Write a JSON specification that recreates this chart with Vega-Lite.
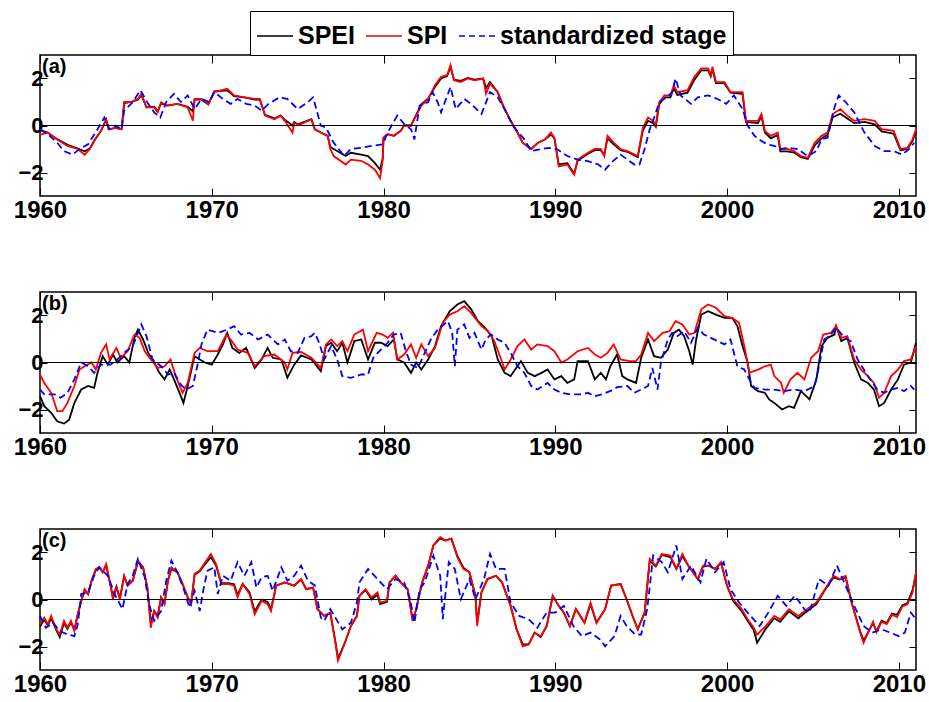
{
"$schema":"https://vega.github.io/schema/vega-lite/v6.json",
"background":"white",
"padding":{"left":12,"top":9,"right":5,"bottom":5},
"config":{"font":"Liberation Sans","view":{"stroke":"black","strokeWidth":1.5}},
"bounds":"flush",
"spacing":96,
"resolve":{"scale":{"color":"independent"}},
"datasets":{
"aE":[{"t":1960.0,"v":-0.2},{"t":1960.45,"v":-0.3},{"t":1961.0,"v":-0.58},{"t":1961.6,"v":-0.82},{"t":1962.2,"v":-0.98},{"t":1962.6,"v":-1.1},{"t":1962.9,"v":-0.98},{"t":1963.2,"v":-0.6},{"t":1963.55,"v":-0.23},{"t":1963.85,"v":0.25},{"t":1964.0,"v":-0.16},{"t":1964.4,"v":-0.1},{"t":1964.75,"v":-0.16},{"t":1964.9,"v":0.95},{"t":1965.3,"v":1.0},{"t":1965.7,"v":1.1},{"t":1965.9,"v":1.3},{"t":1966.2,"v":0.77},{"t":1966.65,"v":0.8},{"t":1966.85,"v":0.6},{"t":1967.05,"v":0.95},{"t":1967.4,"v":0.85},{"t":1968.0,"v":0.92},{"t":1968.6,"v":0.8},{"t":1968.9,"v":0.6},{"t":1969.0,"v":1.1},{"t":1969.4,"v":1.1},{"t":1969.8,"v":0.9},{"t":1970.15,"v":1.45},{"t":1970.9,"v":1.5},{"t":1971.3,"v":1.25},{"t":1971.9,"v":1.2},{"t":1972.5,"v":1.1},{"t":1972.8,"v":1.1},{"t":1973.1,"v":0.45},{"t":1973.65,"v":0.3},{"t":1974.0,"v":0.42},{"t":1974.25,"v":0.25},{"t":1974.7,"v":0.0},{"t":1974.8,"v":0.15},{"t":1975.0,"v":0.05},{"t":1975.2,"v":0.1},{"t":1975.8,"v":0.27},{"t":1976.0,"v":-0.16},{"t":1976.35,"v":-0.3},{"t":1976.75,"v":-0.44},{"t":1976.9,"v":-0.9},{"t":1977.1,"v":-1.0},{"t":1977.8,"v":-1.3},{"t":1978.1,"v":-1.16},{"t":1978.7,"v":-1.24},{"t":1979.1,"v":-1.3},{"t":1979.5,"v":-1.6},{"t":1979.8,"v":-1.88},{"t":1979.95,"v":-1.4},{"t":1980.0,"v":-0.52},{"t":1980.24,"v":-0.37},{"t":1980.6,"v":-0.44},{"t":1981.0,"v":-0.23},{"t":1981.2,"v":0.0},{"t":1981.6,"v":0.0},{"t":1981.9,"v":0.45},{"t":1982.2,"v":0.9},{"t":1982.6,"v":1.15},{"t":1983.0,"v":1.65},{"t":1983.35,"v":2.0},{"t":1983.7,"v":2.1},{"t":1983.9,"v":2.5},{"t":1984.1,"v":1.95},{"t":1984.5,"v":1.9},{"t":1984.9,"v":2.02},{"t":1985.3,"v":1.95},{"t":1985.8,"v":2.0},{"t":1985.97,"v":1.6},{"t":1986.2,"v":1.85},{"t":1986.65,"v":1.42},{"t":1987.0,"v":0.77},{"t":1987.4,"v":0.2},{"t":1987.8,"v":-0.3},{"t":1988.1,"v":-0.73},{"t":1988.6,"v":-1.0},{"t":1989.0,"v":-0.73},{"t":1989.4,"v":-0.6},{"t":1989.75,"v":-0.38},{"t":1989.95,"v":-0.55},{"t":1990.2,"v":-1.65},{"t":1990.7,"v":-1.6},{"t":1991.1,"v":-2.05},{"t":1991.3,"v":-1.5},{"t":1991.9,"v":-1.2},{"t":1992.3,"v":-1.05},{"t":1992.65,"v":-1.05},{"t":1992.85,"v":-1.25},{"t":1993.04,"v":-0.55},{"t":1993.4,"v":-0.8},{"t":1993.8,"v":-1.05},{"t":1994.2,"v":-1.12},{"t":1994.8,"v":-1.35},{"t":1995.1,"v":-0.2},{"t":1995.4,"v":0.2},{"t":1995.7,"v":0.1},{"t":1995.85,"v":-0.05},{"t":1996.05,"v":0.9},{"t":1996.35,"v":1.2},{"t":1996.7,"v":1.2},{"t":1996.9,"v":1.6},{"t":1997.1,"v":1.3},{"t":1997.7,"v":1.4},{"t":1998.1,"v":1.95},{"t":1998.5,"v":2.35},{"t":1998.9,"v":2.35},{"t":1999.05,"v":2.1},{"t":1999.15,"v":2.4},{"t":1999.35,"v":1.8},{"t":1999.85,"v":1.8},{"t":2000.2,"v":1.4},{"t":2000.9,"v":1.35},{"t":2001.1,"v":0.15},{"t":2001.8,"v":0.1},{"t":2002.0,"v":0.4},{"t":2002.2,"v":-0.3},{"t":2002.55,"v":-0.55},{"t":2002.95,"v":-0.4},{"t":2003.1,"v":-1.1},{"t":2003.5,"v":-1.1},{"t":2003.9,"v":-1.15},{"t":2004.3,"v":-1.35},{"t":2004.7,"v":-1.42},{"t":2005.1,"v":-0.85},{"t":2005.5,"v":-0.55},{"t":2005.85,"v":-0.4},{"t":2006.15,"v":0.35},{"t":2006.6,"v":0.5},{"t":2007.0,"v":0.3},{"t":2007.4,"v":0.1},{"t":2008.0,"v":0.15},{"t":2008.6,"v":0.05},{"t":2009.0,"v":-0.25},{"t":2009.7,"v":-0.35},{"t":2010.1,"v":-1.05},{"t":2010.5,"v":-1.0},{"t":2010.8,"v":-0.65},{"t":2011.0,"v":-0.25}],
"aI":[{"t":1960.0,"v":-0.4},{"t":1960.45,"v":-0.3},{"t":1961.0,"v":-0.6},{"t":1961.6,"v":-0.87},{"t":1962.2,"v":-1.0},{"t":1962.6,"v":-1.24},{"t":1962.9,"v":-1.0},{"t":1963.2,"v":-0.6},{"t":1963.55,"v":-0.23},{"t":1963.85,"v":0.27},{"t":1964.0,"v":-0.16},{"t":1964.4,"v":-0.1},{"t":1964.75,"v":-0.16},{"t":1964.9,"v":1.0},{"t":1965.3,"v":1.0},{"t":1965.7,"v":1.13},{"t":1965.9,"v":1.35},{"t":1966.2,"v":0.77},{"t":1966.65,"v":0.77},{"t":1966.85,"v":0.56},{"t":1967.05,"v":0.99},{"t":1967.4,"v":0.85},{"t":1968.0,"v":0.92},{"t":1968.6,"v":0.77},{"t":1968.9,"v":0.2},{"t":1969.0,"v":1.13},{"t":1969.4,"v":1.13},{"t":1969.8,"v":0.92},{"t":1970.15,"v":1.42},{"t":1970.9,"v":1.56},{"t":1971.3,"v":1.28},{"t":1971.9,"v":1.2},{"t":1972.5,"v":1.13},{"t":1972.8,"v":1.13},{"t":1973.1,"v":0.42},{"t":1973.65,"v":0.27},{"t":1974.0,"v":0.42},{"t":1974.25,"v":0.2},{"t":1974.7,"v":-0.3},{"t":1974.8,"v":0.1},{"t":1975.0,"v":0.05},{"t":1975.2,"v":0.06},{"t":1975.8,"v":0.27},{"t":1976.0,"v":-0.16},{"t":1976.35,"v":-0.3},{"t":1976.75,"v":-0.44},{"t":1976.9,"v":-1.0},{"t":1977.1,"v":-1.3},{"t":1977.8,"v":-1.66},{"t":1978.1,"v":-1.45},{"t":1978.7,"v":-1.5},{"t":1979.1,"v":-1.66},{"t":1979.5,"v":-1.88},{"t":1979.8,"v":-2.24},{"t":1979.95,"v":-1.5},{"t":1980.0,"v":-0.52},{"t":1980.24,"v":-0.37},{"t":1980.6,"v":-0.44},{"t":1981.0,"v":-0.23},{"t":1981.2,"v":0.0},{"t":1981.6,"v":0.0},{"t":1981.9,"v":0.42},{"t":1982.2,"v":0.85},{"t":1982.6,"v":1.13},{"t":1983.0,"v":1.71},{"t":1983.35,"v":2.07},{"t":1983.7,"v":2.14},{"t":1983.9,"v":2.57},{"t":1984.1,"v":1.92},{"t":1984.5,"v":1.85},{"t":1984.9,"v":2.0},{"t":1985.3,"v":1.92},{"t":1985.8,"v":2.0},{"t":1985.97,"v":1.35},{"t":1986.2,"v":1.78},{"t":1986.65,"v":1.42},{"t":1987.0,"v":0.77},{"t":1987.4,"v":0.2},{"t":1987.8,"v":-0.3},{"t":1988.1,"v":-0.73},{"t":1988.6,"v":-1.0},{"t":1989.0,"v":-0.73},{"t":1989.4,"v":-0.59},{"t":1989.75,"v":-0.3},{"t":1989.95,"v":-0.52},{"t":1990.2,"v":-1.74},{"t":1990.7,"v":-1.66},{"t":1991.1,"v":-2.1},{"t":1991.3,"v":-1.45},{"t":1991.9,"v":-1.16},{"t":1992.3,"v":-1.0},{"t":1992.65,"v":-1.0},{"t":1992.85,"v":-1.3},{"t":1993.04,"v":-0.44},{"t":1993.4,"v":-0.73},{"t":1993.8,"v":-1.0},{"t":1994.2,"v":-1.09},{"t":1994.8,"v":-1.3},{"t":1995.1,"v":-0.09},{"t":1995.4,"v":0.34},{"t":1995.7,"v":0.2},{"t":1995.85,"v":0.0},{"t":1996.05,"v":0.99},{"t":1996.35,"v":1.28},{"t":1996.7,"v":1.28},{"t":1996.9,"v":1.71},{"t":1997.1,"v":1.42},{"t":1997.7,"v":1.5},{"t":1998.1,"v":2.07},{"t":1998.5,"v":2.43},{"t":1998.9,"v":2.43},{"t":1999.05,"v":2.14},{"t":1999.15,"v":2.5},{"t":1999.35,"v":1.85},{"t":1999.85,"v":1.85},{"t":2000.2,"v":1.42},{"t":2000.9,"v":1.42},{"t":2001.1,"v":0.2},{"t":2001.8,"v":0.2},{"t":2002.0,"v":0.49},{"t":2002.2,"v":-0.23},{"t":2002.55,"v":-0.44},{"t":2002.95,"v":-0.3},{"t":2003.1,"v":-1.0},{"t":2003.5,"v":-1.0},{"t":2003.9,"v":-1.09},{"t":2004.3,"v":-1.3},{"t":2004.7,"v":-1.38},{"t":2005.1,"v":-0.73},{"t":2005.5,"v":-0.44},{"t":2005.85,"v":-0.3},{"t":2006.15,"v":0.49},{"t":2006.6,"v":0.7},{"t":2007.0,"v":0.42},{"t":2007.4,"v":0.2},{"t":2008.0,"v":0.27},{"t":2008.6,"v":0.2},{"t":2009.0,"v":-0.16},{"t":2009.7,"v":-0.23},{"t":2010.1,"v":-1.0},{"t":2010.5,"v":-0.95},{"t":2010.8,"v":-0.59},{"t":2011.0,"v":-0.16}],
"aS":[{"t":1960.0,"v":-0.16},{"t":1960.45,"v":-0.37},{"t":1961.0,"v":-0.73},{"t":1961.4,"v":-1.09},{"t":1961.9,"v":-1.24},{"t":1962.3,"v":-1.0},{"t":1962.8,"v":-0.8},{"t":1963.35,"v":-0.16},{"t":1963.75,"v":0.34},{"t":1964.05,"v":-0.16},{"t":1964.4,"v":0.0},{"t":1964.75,"v":-0.16},{"t":1964.9,"v":0.63},{"t":1965.4,"v":1.0},{"t":1965.85,"v":1.5},{"t":1966.3,"v":0.92},{"t":1966.65,"v":0.56},{"t":1967.0,"v":0.34},{"t":1967.35,"v":1.0},{"t":1967.8,"v":1.35},{"t":1968.2,"v":1.0},{"t":1968.6,"v":1.28},{"t":1969.0,"v":0.7},{"t":1969.4,"v":1.13},{"t":1969.85,"v":1.0},{"t":1970.15,"v":1.42},{"t":1970.65,"v":1.13},{"t":1971.1,"v":0.92},{"t":1971.5,"v":1.13},{"t":1972.0,"v":0.92},{"t":1972.5,"v":0.85},{"t":1972.9,"v":0.63},{"t":1973.3,"v":0.92},{"t":1973.95,"v":1.2},{"t":1974.4,"v":1.13},{"t":1975.0,"v":0.7},{"t":1975.6,"v":1.0},{"t":1975.9,"v":1.2},{"t":1976.35,"v":0.0},{"t":1976.65,"v":-0.09},{"t":1977.1,"v":-0.73},{"t":1977.7,"v":-1.3},{"t":1978.1,"v":-1.0},{"t":1978.7,"v":-0.95},{"t":1979.3,"v":-0.87},{"t":1979.95,"v":-0.8},{"t":1980.24,"v":-0.3},{"t":1980.8,"v":0.42},{"t":1981.2,"v":0.06},{"t":1981.6,"v":-0.16},{"t":1981.8,"v":-0.59},{"t":1982.1,"v":0.85},{"t":1982.6,"v":1.0},{"t":1982.85,"v":1.42},{"t":1983.15,"v":1.0},{"t":1983.35,"v":0.56},{"t":1983.9,"v":1.64},{"t":1984.2,"v":0.7},{"t":1984.7,"v":1.13},{"t":1985.1,"v":0.92},{"t":1985.7,"v":0.49},{"t":1986.2,"v":1.42},{"t":1986.65,"v":1.2},{"t":1987.0,"v":0.77},{"t":1987.6,"v":-0.09},{"t":1988.2,"v":-0.59},{"t":1988.6,"v":-1.09},{"t":1989.2,"v":-1.0},{"t":1989.65,"v":-0.95},{"t":1990.1,"v":-1.0},{"t":1990.7,"v":-1.3},{"t":1991.3,"v":-1.45},{"t":1991.9,"v":-1.52},{"t":1992.5,"v":-1.66},{"t":1992.9,"v":-1.88},{"t":1993.3,"v":-1.55},{"t":1993.8,"v":-1.24},{"t":1994.2,"v":-1.45},{"t":1994.6,"v":-1.66},{"t":1994.9,"v":-1.66},{"t":1995.2,"v":-1.0},{"t":1995.5,"v":-0.16},{"t":1995.8,"v":0.42},{"t":1996.05,"v":1.0},{"t":1996.5,"v":1.2},{"t":1996.8,"v":1.42},{"t":1997.0,"v":2.0},{"t":1997.3,"v":1.28},{"t":1997.9,"v":0.92},{"t":1998.3,"v":1.2},{"t":1998.9,"v":1.28},{"t":1999.45,"v":1.13},{"t":1999.95,"v":0.92},{"t":2000.4,"v":1.28},{"t":2000.9,"v":0.7},{"t":2001.2,"v":0.0},{"t":2001.6,"v":-0.44},{"t":2002.0,"v":-0.66},{"t":2002.35,"v":-0.8},{"t":2002.75,"v":-0.87},{"t":2003.15,"v":-1.0},{"t":2003.5,"v":-0.95},{"t":2004.1,"v":-1.0},{"t":2004.7,"v":-1.3},{"t":2005.2,"v":-1.09},{"t":2005.5,"v":-0.59},{"t":2005.85,"v":-0.52},{"t":2006.25,"v":0.77},{"t":2006.5,"v":1.28},{"t":2006.9,"v":1.0},{"t":2007.4,"v":0.56},{"t":2008.0,"v":-0.3},{"t":2008.6,"v":-0.87},{"t":2009.15,"v":-1.09},{"t":2009.7,"v":-1.09},{"t":2010.2,"v":-1.24},{"t":2010.6,"v":-1.0},{"t":2010.9,"v":-0.73}],
"bE":[{"t":1960.0,"v":-1.43},{"t":1960.25,"v":-1.86},{"t":1960.65,"v":-2.14},{"t":1961.0,"v":-2.5},{"t":1961.4,"v":-2.6},{"t":1961.7,"v":-2.43},{"t":1962.0,"v":-1.72},{"t":1962.4,"v":-1.15},{"t":1962.8,"v":-1.0},{"t":1963.15,"v":-1.08},{"t":1963.35,"v":-0.44},{"t":1963.65,"v":0.27},{"t":1963.95,"v":-0.09},{"t":1964.25,"v":0.34},{"t":1964.5,"v":0.0},{"t":1964.9,"v":0.27},{"t":1965.2,"v":0.0},{"t":1965.5,"v":1.05},{"t":1965.7,"v":1.4},{"t":1966.0,"v":0.98},{"t":1966.3,"v":0.41},{"t":1966.65,"v":0.0},{"t":1966.95,"v":-0.44},{"t":1967.25,"v":-0.72},{"t":1967.55,"v":-0.3},{"t":1967.8,"v":-0.72},{"t":1968.2,"v":-1.43},{"t":1968.35,"v":-1.72},{"t":1968.6,"v":-1.0},{"t":1969.0,"v":0.27},{"t":1969.3,"v":0.13},{"t":1969.6,"v":0.0},{"t":1970.0,"v":-0.09},{"t":1970.35,"v":0.34},{"t":1970.65,"v":0.77},{"t":1970.9,"v":1.26},{"t":1971.2,"v":0.62},{"t":1971.6,"v":0.41},{"t":1972.0,"v":0.62},{"t":1972.5,"v":-0.23},{"t":1972.9,"v":0.13},{"t":1973.25,"v":0.62},{"t":1973.55,"v":0.2},{"t":1974.05,"v":0.13},{"t":1974.4,"v":-0.65},{"t":1974.8,"v":-0.09},{"t":1975.2,"v":0.3},{"t":1975.8,"v":0.13},{"t":1976.35,"v":-0.37},{"t":1976.65,"v":0.7},{"t":1976.95,"v":0.84},{"t":1977.3,"v":0.48},{"t":1977.6,"v":0.84},{"t":1977.9,"v":0.0},{"t":1978.3,"v":0.91},{"t":1978.7,"v":0.98},{"t":1979.1,"v":0.13},{"t":1979.5,"v":0.84},{"t":1979.85,"v":0.84},{"t":1980.24,"v":0.7},{"t":1980.6,"v":0.98},{"t":1980.8,"v":0.13},{"t":1981.2,"v":0.0},{"t":1981.6,"v":-0.44},{"t":1981.9,"v":0.0},{"t":1982.2,"v":-0.3},{"t":1982.6,"v":0.13},{"t":1983.0,"v":0.7},{"t":1983.35,"v":1.55},{"t":1983.85,"v":2.18},{"t":1984.3,"v":2.47},{"t":1984.7,"v":2.61},{"t":1985.1,"v":2.26},{"t":1985.5,"v":1.76},{"t":1985.9,"v":1.48},{"t":1986.3,"v":1.12},{"t":1986.65,"v":0.13},{"t":1987.05,"v":-0.44},{"t":1987.4,"v":-0.58},{"t":1988.0,"v":0.06},{"t":1988.4,"v":-0.44},{"t":1988.8,"v":-0.58},{"t":1989.2,"v":-0.44},{"t":1989.55,"v":-0.3},{"t":1989.95,"v":-0.72},{"t":1990.35,"v":-0.58},{"t":1990.7,"v":-0.87},{"t":1991.1,"v":-0.72},{"t":1991.3,"v":0.06},{"t":1991.9,"v":0.06},{"t":1992.3,"v":-0.72},{"t":1992.65,"v":-0.44},{"t":1992.95,"v":-0.72},{"t":1993.2,"v":-0.16},{"t":1993.6,"v":0.34},{"t":1993.9,"v":-0.58},{"t":1994.2,"v":-0.72},{"t":1994.7,"v":-0.87},{"t":1995.0,"v":0.2},{"t":1995.4,"v":0.98},{"t":1995.75,"v":0.27},{"t":1996.15,"v":0.2},{"t":1996.55,"v":0.55},{"t":1996.9,"v":1.26},{"t":1997.2,"v":1.4},{"t":1997.5,"v":1.12},{"t":1997.8,"v":0.48},{"t":1998.0,"v":-0.09},{"t":1998.2,"v":0.98},{"t":1998.5,"v":2.04},{"t":1998.9,"v":2.18},{"t":1999.35,"v":2.04},{"t":1999.85,"v":1.9},{"t":2000.3,"v":1.9},{"t":2000.6,"v":1.55},{"t":2000.9,"v":0.7},{"t":2001.2,"v":0.0},{"t":2001.4,"v":-1.0},{"t":2001.8,"v":-1.22},{"t":2002.2,"v":-1.29},{"t":2002.45,"v":-1.57},{"t":2002.75,"v":-1.72},{"t":2003.2,"v":-2.0},{"t":2003.6,"v":-1.86},{"t":2003.9,"v":-1.93},{"t":2004.3,"v":-1.22},{"t":2004.5,"v":-1.36},{"t":2004.8,"v":-1.57},{"t":2005.2,"v":-0.72},{"t":2005.5,"v":0.7},{"t":2005.85,"v":1.05},{"t":2006.25,"v":1.19},{"t":2006.35,"v":1.55},{"t":2006.65,"v":0.91},{"t":2007.0,"v":1.05},{"t":2007.4,"v":0.0},{"t":2007.8,"v":-0.72},{"t":2008.2,"v":-0.87},{"t":2008.55,"v":-1.15},{"t":2008.85,"v":-1.86},{"t":2009.15,"v":-1.72},{"t":2009.55,"v":-1.15},{"t":2009.95,"v":-0.72},{"t":2010.3,"v":-0.09},{"t":2010.7,"v":0.0},{"t":2011.0,"v":0.84}],
"bI":[{"t":1960.0,"v":-0.51},{"t":1960.25,"v":-0.87},{"t":1960.65,"v":-1.29},{"t":1960.85,"v":-1.72},{"t":1961.0,"v":-2.07},{"t":1961.3,"v":-2.07},{"t":1961.6,"v":-1.72},{"t":1962.0,"v":-1.0},{"t":1962.3,"v":-0.3},{"t":1962.6,"v":-0.16},{"t":1963.0,"v":0.0},{"t":1963.25,"v":-0.3},{"t":1963.55,"v":0.41},{"t":1963.85,"v":0.77},{"t":1964.05,"v":0.13},{"t":1964.45,"v":0.62},{"t":1964.7,"v":0.2},{"t":1965.1,"v":0.48},{"t":1965.5,"v":1.19},{"t":1965.8,"v":1.05},{"t":1966.1,"v":0.48},{"t":1966.45,"v":0.13},{"t":1966.85,"v":-0.23},{"t":1967.25,"v":-0.16},{"t":1967.6,"v":0.13},{"t":1967.9,"v":-0.58},{"t":1968.3,"v":-1.29},{"t":1968.6,"v":-0.87},{"t":1969.0,"v":0.41},{"t":1969.3,"v":0.62},{"t":1969.75,"v":0.48},{"t":1970.35,"v":0.48},{"t":1970.85,"v":1.19},{"t":1971.1,"v":0.98},{"t":1971.5,"v":0.55},{"t":1972.1,"v":0.41},{"t":1972.5,"v":-0.16},{"t":1973.05,"v":0.27},{"t":1973.65,"v":0.34},{"t":1974.25,"v":0.0},{"t":1974.4,"v":-0.3},{"t":1974.7,"v":0.41},{"t":1975.2,"v":0.45},{"t":1975.8,"v":0.2},{"t":1976.35,"v":-0.23},{"t":1976.65,"v":0.77},{"t":1976.95,"v":0.98},{"t":1977.3,"v":0.7},{"t":1977.6,"v":0.91},{"t":1977.9,"v":0.48},{"t":1978.3,"v":1.19},{"t":1978.8,"v":1.4},{"t":1979.1,"v":0.48},{"t":1979.6,"v":1.26},{"t":1979.95,"v":1.19},{"t":1980.24,"v":1.05},{"t":1980.55,"v":1.26},{"t":1980.8,"v":0.13},{"t":1981.2,"v":0.34},{"t":1981.6,"v":0.77},{"t":1981.9,"v":0.2},{"t":1982.2,"v":0.77},{"t":1982.6,"v":0.27},{"t":1983.0,"v":0.62},{"t":1983.45,"v":1.69},{"t":1983.85,"v":2.04},{"t":1984.3,"v":2.18},{"t":1984.7,"v":2.4},{"t":1985.1,"v":2.11},{"t":1985.7,"v":1.55},{"t":1986.1,"v":1.33},{"t":1986.45,"v":0.91},{"t":1986.85,"v":0.13},{"t":1987.05,"v":-0.3},{"t":1987.4,"v":0.13},{"t":1987.8,"v":0.7},{"t":1988.2,"v":0.98},{"t":1988.6,"v":0.55},{"t":1988.95,"v":0.77},{"t":1989.55,"v":0.7},{"t":1989.95,"v":0.48},{"t":1990.35,"v":0.0},{"t":1990.7,"v":0.13},{"t":1991.3,"v":0.48},{"t":1991.9,"v":0.62},{"t":1992.3,"v":0.34},{"t":1992.65,"v":0.2},{"t":1993.04,"v":0.41},{"t":1993.4,"v":0.77},{"t":1993.8,"v":0.13},{"t":1994.3,"v":0.06},{"t":1994.7,"v":0.06},{"t":1995.0,"v":0.34},{"t":1995.4,"v":1.26},{"t":1995.75,"v":0.91},{"t":1996.25,"v":1.26},{"t":1996.65,"v":1.33},{"t":1997.0,"v":1.76},{"t":1997.4,"v":1.62},{"t":1997.8,"v":1.19},{"t":1998.1,"v":1.26},{"t":1998.5,"v":2.26},{"t":1998.9,"v":2.47},{"t":1999.35,"v":2.33},{"t":1999.85,"v":1.97},{"t":2000.3,"v":1.9},{"t":2000.7,"v":1.69},{"t":2001.0,"v":0.7},{"t":2001.3,"v":-0.44},{"t":2001.8,"v":-0.3},{"t":2002.2,"v":-0.16},{"t":2002.55,"v":-0.09},{"t":2002.75,"v":-0.58},{"t":2003.15,"v":-0.87},{"t":2003.3,"v":-1.29},{"t":2003.7,"v":-0.72},{"t":2004.1,"v":-0.44},{"t":2004.5,"v":-0.72},{"t":2004.9,"v":0.2},{"t":2005.3,"v":0.48},{"t":2005.6,"v":1.19},{"t":2006.05,"v":1.26},{"t":2006.35,"v":1.55},{"t":2006.65,"v":1.05},{"t":2007.0,"v":1.12},{"t":2007.4,"v":0.13},{"t":2007.8,"v":-0.3},{"t":2008.2,"v":-0.58},{"t":2008.55,"v":-0.87},{"t":2008.85,"v":-1.5},{"t":2009.15,"v":-1.29},{"t":2009.55,"v":-0.58},{"t":2009.95,"v":-0.3},{"t":2010.3,"v":0.06},{"t":2010.7,"v":0.13},{"t":2011.0,"v":0.7}],
"bS":[{"t":1960.0,"v":-1.15},{"t":1960.25,"v":-1.36},{"t":1960.85,"v":-1.36},{"t":1961.2,"v":-1.5},{"t":1961.6,"v":-1.29},{"t":1962.0,"v":-0.72},{"t":1962.4,"v":0.0},{"t":1962.8,"v":-0.16},{"t":1963.15,"v":-0.44},{"t":1963.55,"v":-0.09},{"t":1964.1,"v":-0.09},{"t":1964.5,"v":0.13},{"t":1964.9,"v":0.41},{"t":1965.4,"v":0.7},{"t":1965.9,"v":1.62},{"t":1966.2,"v":1.12},{"t":1966.55,"v":0.13},{"t":1967.05,"v":-0.16},{"t":1967.45,"v":-0.51},{"t":1967.8,"v":-0.44},{"t":1968.2,"v":-0.94},{"t":1968.5,"v":-1.15},{"t":1968.9,"v":-1.0},{"t":1969.2,"v":0.0},{"t":1969.4,"v":0.77},{"t":1969.75,"v":1.4},{"t":1970.35,"v":1.26},{"t":1970.9,"v":1.4},{"t":1971.3,"v":1.55},{"t":1971.7,"v":1.19},{"t":1972.2,"v":1.26},{"t":1972.7,"v":0.98},{"t":1973.25,"v":1.19},{"t":1973.85,"v":0.77},{"t":1974.25,"v":0.98},{"t":1974.6,"v":0.48},{"t":1975.0,"v":0.41},{"t":1975.4,"v":1.05},{"t":1975.8,"v":1.12},{"t":1976.0,"v":1.26},{"t":1976.25,"v":0.84},{"t":1976.55,"v":0.13},{"t":1976.95,"v":0.7},{"t":1977.3,"v":0.13},{"t":1977.6,"v":-0.58},{"t":1978.1,"v":-0.65},{"t":1978.7,"v":-0.51},{"t":1979.1,"v":-0.51},{"t":1979.4,"v":0.2},{"t":1979.85,"v":0.55},{"t":1980.24,"v":0.84},{"t":1980.6,"v":1.19},{"t":1981.0,"v":1.26},{"t":1981.3,"v":0.48},{"t":1981.6,"v":-0.09},{"t":1982.0,"v":-0.23},{"t":1982.4,"v":0.41},{"t":1982.75,"v":0.98},{"t":1983.15,"v":1.4},{"t":1983.75,"v":1.76},{"t":1984.0,"v":1.26},{"t":1984.15,"v":-0.16},{"t":1984.3,"v":1.4},{"t":1984.7,"v":1.62},{"t":1985.0,"v":1.05},{"t":1985.3,"v":1.26},{"t":1985.7,"v":0.55},{"t":1985.95,"v":0.98},{"t":1986.25,"v":1.19},{"t":1986.65,"v":0.98},{"t":1987.05,"v":0.84},{"t":1987.4,"v":0.41},{"t":1987.8,"v":-0.16},{"t":1988.2,"v":-0.44},{"t":1988.6,"v":-1.0},{"t":1988.95,"v":-1.15},{"t":1989.55,"v":-0.87},{"t":1989.95,"v":-1.15},{"t":1990.35,"v":-1.29},{"t":1990.9,"v":-1.36},{"t":1991.5,"v":-1.36},{"t":1991.9,"v":-1.29},{"t":1992.3,"v":-1.43},{"t":1992.7,"v":-1.36},{"t":1993.25,"v":-1.2},{"t":1993.6,"v":-1.05},{"t":1994.2,"v":-1.0},{"t":1994.6,"v":-1.29},{"t":1995.0,"v":-1.15},{"t":1995.4,"v":-1.0},{"t":1995.65,"v":-0.23},{"t":1995.95,"v":-1.15},{"t":1996.15,"v":0.0},{"t":1996.55,"v":0.98},{"t":1996.8,"v":1.26},{"t":1997.1,"v":1.12},{"t":1997.5,"v":1.33},{"t":1997.9,"v":0.84},{"t":1998.3,"v":1.48},{"t":1998.65,"v":1.19},{"t":1999.05,"v":1.05},{"t":1999.45,"v":0.91},{"t":1999.85,"v":0.77},{"t":2000.2,"v":0.98},{"t":2000.6,"v":-0.16},{"t":2001.0,"v":-0.3},{"t":2001.3,"v":-0.72},{"t":2001.6,"v":-1.08},{"t":2002.2,"v":-1.15},{"t":2002.75,"v":-1.15},{"t":2003.3,"v":-1.22},{"t":2003.9,"v":-1.15},{"t":2004.5,"v":-1.22},{"t":2005.1,"v":-1.0},{"t":2005.4,"v":0.0},{"t":2005.65,"v":0.98},{"t":2006.05,"v":1.19},{"t":2006.35,"v":1.48},{"t":2006.85,"v":1.05},{"t":2007.2,"v":0.91},{"t":2007.6,"v":0.13},{"t":2008.2,"v":-0.58},{"t":2008.75,"v":-1.15},{"t":2009.15,"v":-1.29},{"t":2009.55,"v":-1.15},{"t":2009.95,"v":-1.08},{"t":2010.3,"v":-1.22},{"t":2010.7,"v":-1.0},{"t":2010.9,"v":-1.15}],
"cE":[{"t":1960.0,"v":-1.15},{"t":1960.25,"v":-0.85},{"t":1960.45,"v":-1.1},{"t":1960.65,"v":-0.8},{"t":1960.95,"v":-1.3},{"t":1961.15,"v":-1.6},{"t":1961.4,"v":-1.0},{"t":1961.6,"v":-1.25},{"t":1961.8,"v":-0.95},{"t":1962.0,"v":-1.3},{"t":1962.2,"v":-0.63},{"t":1962.4,"v":-0.06},{"t":1962.6,"v":0.4},{"t":1962.8,"v":0.23},{"t":1963.0,"v":0.8},{"t":1963.25,"v":1.25},{"t":1963.45,"v":1.37},{"t":1963.65,"v":1.16},{"t":1963.85,"v":1.45},{"t":1964.05,"v":0.8},{"t":1964.25,"v":0.1},{"t":1964.45,"v":0.55},{"t":1964.65,"v":0.05},{"t":1964.9,"v":1.0},{"t":1965.1,"v":0.6},{"t":1965.4,"v":0.8},{"t":1965.7,"v":1.6},{"t":1966.0,"v":1.37},{"t":1966.25,"v":0.51},{"t":1966.45,"v":-1.0},{"t":1966.65,"v":-0.49},{"t":1966.85,"v":-0.7},{"t":1967.05,"v":0.09},{"t":1967.25,"v":-0.15},{"t":1967.45,"v":0.8},{"t":1967.65,"v":1.3},{"t":1968.0,"v":1.16},{"t":1968.3,"v":0.66},{"t":1968.6,"v":0.09},{"t":1968.8,"v":-0.15},{"t":1969.0,"v":1.05},{"t":1969.3,"v":1.2},{"t":1969.55,"v":1.45},{"t":1969.95,"v":1.8},{"t":1970.25,"v":1.45},{"t":1970.55,"v":0.7},{"t":1970.95,"v":0.7},{"t":1971.3,"v":0.65},{"t":1971.5,"v":0.2},{"t":1971.8,"v":0.66},{"t":1972.2,"v":0.3},{"t":1972.5,"v":-0.5},{"t":1972.9,"v":0.0},{"t":1973.25,"v":-0.1},{"t":1973.45,"v":-0.4},{"t":1973.75,"v":0.59},{"t":1974.25,"v":0.73},{"t":1974.8,"v":0.59},{"t":1975.2,"v":0.85},{"t":1975.5,"v":0.44},{"t":1975.9,"v":0.51},{"t":1976.15,"v":-0.41},{"t":1976.55,"v":-0.7},{"t":1976.9,"v":-0.56},{"t":1977.2,"v":-1.8},{"t":1977.35,"v":-2.5},{"t":1977.75,"v":-1.84},{"t":1978.1,"v":-1.13},{"t":1978.45,"v":-0.7},{"t":1978.6,"v":0.16},{"t":1978.95,"v":0.4},{"t":1979.3,"v":0.0},{"t":1979.65,"v":0.2},{"t":1979.8,"v":-0.2},{"t":1980.2,"v":-0.1},{"t":1980.35,"v":0.73},{"t":1980.7,"v":1.01},{"t":1981.0,"v":0.73},{"t":1981.4,"v":0.44},{"t":1981.7,"v":-0.91},{"t":1981.9,"v":-0.41},{"t":1982.25,"v":0.73},{"t":1982.6,"v":1.44},{"t":1982.9,"v":2.3},{"t":1983.3,"v":2.6},{"t":1983.6,"v":2.51},{"t":1983.95,"v":2.59},{"t":1984.3,"v":1.85},{"t":1984.65,"v":1.35},{"t":1985.0,"v":1.16},{"t":1985.35,"v":0.16},{"t":1985.45,"v":-1.0},{"t":1985.7,"v":0.3},{"t":1986.05,"v":0.87},{"t":1986.55,"v":1.01},{"t":1986.9,"v":0.73},{"t":1987.4,"v":-0.27},{"t":1987.75,"v":-1.27},{"t":1988.1,"v":-1.9},{"t":1988.45,"v":-1.91},{"t":1988.8,"v":-1.41},{"t":1989.15,"v":-1.6},{"t":1989.5,"v":-1.13},{"t":1989.85,"v":0.16},{"t":1990.2,"v":-0.27},{"t":1990.5,"v":-0.56},{"t":1990.85,"v":-1.13},{"t":1991.2,"v":-0.41},{"t":1991.7,"v":-0.99},{"t":1992.05,"v":-0.2},{"t":1992.4,"v":-0.99},{"t":1992.9,"v":-0.41},{"t":1993.25,"v":0.59},{"t":1993.8,"v":0.66},{"t":1994.15,"v":0.01},{"t":1994.5,"v":-0.7},{"t":1994.8,"v":-1.27},{"t":1995.2,"v":-0.56},{"t":1995.5,"v":1.65},{"t":1995.85,"v":1.4},{"t":1996.2,"v":1.9},{"t":1996.7,"v":1.8},{"t":1997.05,"v":1.3},{"t":1997.4,"v":1.85},{"t":1997.75,"v":1.44},{"t":1998.3,"v":0.87},{"t":1998.6,"v":1.4},{"t":1998.95,"v":1.44},{"t":1999.3,"v":1.3},{"t":1999.65,"v":1.55},{"t":2000.0,"v":0.59},{"t":2000.35,"v":-0.05},{"t":2000.85,"v":-0.5},{"t":2001.2,"v":-0.9},{"t":2001.55,"v":-1.3},{"t":2001.75,"v":-1.84},{"t":2002.25,"v":-1.25},{"t":2002.75,"v":-0.8},{"t":2003.1,"v":-0.95},{"t":2003.6,"v":-0.5},{"t":2004.15,"v":-0.8},{"t":2004.65,"v":-0.5},{"t":2005.2,"v":-0.2},{"t":2005.7,"v":0.4},{"t":2006.2,"v":0.95},{"t":2006.55,"v":0.85},{"t":2006.9,"v":0.95},{"t":2007.25,"v":-0.13},{"t":2007.75,"v":-1.35},{"t":2007.95,"v":-1.75},{"t":2008.3,"v":-1.27},{"t":2008.5,"v":-1.0},{"t":2008.7,"v":-1.35},{"t":2009.0,"v":-0.9},{"t":2009.3,"v":-1.0},{"t":2009.6,"v":-0.6},{"t":2009.9,"v":-0.65},{"t":2010.2,"v":-0.25},{"t":2010.5,"v":-0.15},{"t":2010.8,"v":0.4},{"t":2011.0,"v":1.1}],
"cI":[{"t":1960.0,"v":-1.06},{"t":1960.25,"v":-0.77},{"t":1960.45,"v":-1.06},{"t":1960.65,"v":-0.7},{"t":1960.95,"v":-1.27},{"t":1961.15,"v":-1.49},{"t":1961.4,"v":-0.91},{"t":1961.6,"v":-1.2},{"t":1961.8,"v":-0.91},{"t":1962.0,"v":-1.34},{"t":1962.2,"v":-0.63},{"t":1962.4,"v":-0.06},{"t":1962.6,"v":0.44},{"t":1962.8,"v":0.23},{"t":1963.0,"v":0.8},{"t":1963.25,"v":1.3},{"t":1963.45,"v":1.37},{"t":1963.65,"v":1.16},{"t":1963.85,"v":1.51},{"t":1964.05,"v":0.8},{"t":1964.25,"v":0.0},{"t":1964.45,"v":0.51},{"t":1964.65,"v":0.0},{"t":1964.9,"v":1.01},{"t":1965.1,"v":0.59},{"t":1965.4,"v":0.8},{"t":1965.7,"v":1.66},{"t":1966.0,"v":1.37},{"t":1966.25,"v":0.51},{"t":1966.45,"v":-1.2},{"t":1966.65,"v":-0.49},{"t":1966.85,"v":-0.77},{"t":1967.05,"v":0.09},{"t":1967.25,"v":-0.2},{"t":1967.45,"v":0.8},{"t":1967.65,"v":1.37},{"t":1968.0,"v":1.16},{"t":1968.3,"v":0.66},{"t":1968.6,"v":0.09},{"t":1968.8,"v":-0.2},{"t":1969.0,"v":1.09},{"t":1969.3,"v":1.23},{"t":1969.55,"v":1.51},{"t":1969.95,"v":1.94},{"t":1970.25,"v":1.51},{"t":1970.55,"v":0.66},{"t":1970.95,"v":0.66},{"t":1971.3,"v":0.59},{"t":1971.5,"v":0.09},{"t":1971.8,"v":0.66},{"t":1972.2,"v":0.23},{"t":1972.5,"v":-0.63},{"t":1972.9,"v":-0.06},{"t":1973.25,"v":-0.2},{"t":1973.45,"v":-0.49},{"t":1973.75,"v":0.59},{"t":1974.25,"v":0.73},{"t":1974.8,"v":0.59},{"t":1975.2,"v":0.87},{"t":1975.5,"v":0.44},{"t":1975.9,"v":0.51},{"t":1976.15,"v":-0.41},{"t":1976.55,"v":-0.7},{"t":1976.9,"v":-0.56},{"t":1977.2,"v":-1.84},{"t":1977.35,"v":-2.6},{"t":1977.75,"v":-1.84},{"t":1978.1,"v":-1.13},{"t":1978.45,"v":-0.7},{"t":1978.6,"v":0.16},{"t":1978.95,"v":0.44},{"t":1979.3,"v":0.09},{"t":1979.65,"v":0.3},{"t":1979.8,"v":-0.13},{"t":1980.2,"v":-0.06},{"t":1980.35,"v":0.73},{"t":1980.7,"v":1.01},{"t":1981.0,"v":0.73},{"t":1981.4,"v":0.44},{"t":1981.7,"v":-0.91},{"t":1981.9,"v":-0.41},{"t":1982.25,"v":0.73},{"t":1982.6,"v":1.44},{"t":1982.9,"v":2.3},{"t":1983.3,"v":2.66},{"t":1983.6,"v":2.51},{"t":1983.95,"v":2.59},{"t":1984.3,"v":1.8},{"t":1984.65,"v":1.3},{"t":1985.0,"v":1.16},{"t":1985.35,"v":0.16},{"t":1985.45,"v":-1.13},{"t":1985.7,"v":0.3},{"t":1986.05,"v":0.87},{"t":1986.55,"v":1.01},{"t":1986.9,"v":0.73},{"t":1987.4,"v":-0.27},{"t":1987.75,"v":-1.27},{"t":1988.1,"v":-1.99},{"t":1988.45,"v":-1.91},{"t":1988.8,"v":-1.41},{"t":1989.15,"v":-1.56},{"t":1989.5,"v":-1.13},{"t":1989.85,"v":0.16},{"t":1990.2,"v":-0.27},{"t":1990.5,"v":-0.56},{"t":1990.85,"v":-1.13},{"t":1991.2,"v":-0.41},{"t":1991.7,"v":-0.99},{"t":1992.05,"v":-0.13},{"t":1992.4,"v":-0.99},{"t":1992.9,"v":-0.41},{"t":1993.25,"v":0.59},{"t":1993.8,"v":0.66},{"t":1994.15,"v":0.01},{"t":1994.5,"v":-0.7},{"t":1994.8,"v":-1.27},{"t":1995.2,"v":-0.56},{"t":1995.5,"v":1.73},{"t":1995.85,"v":1.44},{"t":1996.2,"v":1.94},{"t":1996.7,"v":1.87},{"t":1997.05,"v":1.3},{"t":1997.4,"v":1.94},{"t":1997.75,"v":1.44},{"t":1998.3,"v":0.87},{"t":1998.6,"v":1.44},{"t":1998.95,"v":1.44},{"t":1999.3,"v":1.3},{"t":1999.65,"v":1.59},{"t":2000.0,"v":0.59},{"t":2000.35,"v":0.01},{"t":2000.85,"v":-0.41},{"t":2001.2,"v":-0.84},{"t":2001.55,"v":-1.2},{"t":2001.75,"v":-1.5},{"t":2002.25,"v":-1.13},{"t":2002.75,"v":-0.7},{"t":2003.1,"v":-0.84},{"t":2003.6,"v":-0.41},{"t":2004.15,"v":-0.7},{"t":2004.65,"v":-0.41},{"t":2005.2,"v":-0.13},{"t":2005.7,"v":0.44},{"t":2006.2,"v":1.01},{"t":2006.55,"v":0.87},{"t":2006.9,"v":1.01},{"t":2007.25,"v":-0.13},{"t":2007.75,"v":-1.41},{"t":2007.95,"v":-1.84},{"t":2008.3,"v":-1.27},{"t":2008.5,"v":-0.95},{"t":2008.7,"v":-1.4},{"t":2009.0,"v":-0.95},{"t":2009.3,"v":-1.05},{"t":2009.6,"v":-0.65},{"t":2009.9,"v":-0.75},{"t":2010.2,"v":-0.3},{"t":2010.5,"v":-0.2},{"t":2010.8,"v":0.3},{"t":2011.0,"v":1.16}],
"cS":[{"t":1960.0,"v":-0.7},{"t":1960.35,"v":-1.2},{"t":1960.75,"v":-0.99},{"t":1961.15,"v":-1.34},{"t":1961.6,"v":-1.49},{"t":1962.0,"v":-1.56},{"t":1962.2,"v":-1.06},{"t":1962.4,"v":0.23},{"t":1962.8,"v":0.3},{"t":1963.15,"v":1.01},{"t":1963.45,"v":1.37},{"t":1963.95,"v":1.01},{"t":1964.35,"v":0.23},{"t":1964.8,"v":-0.41},{"t":1965.1,"v":0.66},{"t":1965.4,"v":1.01},{"t":1965.7,"v":1.73},{"t":1966.1,"v":0.94},{"t":1966.35,"v":-0.2},{"t":1966.65,"v":-0.91},{"t":1967.05,"v":-0.49},{"t":1967.35,"v":0.8},{"t":1967.65,"v":1.66},{"t":1968.0,"v":1.16},{"t":1968.4,"v":0.37},{"t":1968.7,"v":-0.34},{"t":1969.0,"v":0.37},{"t":1969.3,"v":-0.49},{"t":1969.5,"v":0.37},{"t":1969.75,"v":1.23},{"t":1970.15,"v":1.37},{"t":1970.35,"v":0.23},{"t":1970.65,"v":1.01},{"t":1971.1,"v":0.8},{"t":1971.5,"v":1.59},{"t":1971.9,"v":1.01},{"t":1972.3,"v":1.59},{"t":1972.6,"v":0.51},{"t":1972.9,"v":0.94},{"t":1973.25,"v":1.01},{"t":1973.55,"v":0.37},{"t":1974.05,"v":1.37},{"t":1974.4,"v":0.8},{"t":1974.8,"v":1.01},{"t":1975.2,"v":1.44},{"t":1975.6,"v":0.8},{"t":1976.0,"v":0.6},{"t":1976.35,"v":-0.77},{"t":1976.55,"v":-0.91},{"t":1976.9,"v":-0.41},{"t":1977.6,"v":-1.27},{"t":1978.1,"v":-0.99},{"t":1978.45,"v":-0.13},{"t":1978.6,"v":0.73},{"t":1979.1,"v":1.3},{"t":1979.65,"v":0.87},{"t":1980.2,"v":0.44},{"t":1980.7,"v":0.87},{"t":1981.2,"v":0.73},{"t":1981.55,"v":0.01},{"t":1981.8,"v":-0.99},{"t":1982.1,"v":0.44},{"t":1982.4,"v":0.73},{"t":1982.9,"v":1.87},{"t":1983.3,"v":1.01},{"t":1983.45,"v":-0.84},{"t":1983.8,"v":1.59},{"t":1984.15,"v":1.3},{"t":1984.5,"v":0.01},{"t":1985.0,"v":0.87},{"t":1985.35,"v":0.01},{"t":1985.85,"v":0.87},{"t":1986.2,"v":1.94},{"t":1986.55,"v":1.3},{"t":1987.05,"v":1.3},{"t":1987.4,"v":-0.13},{"t":1987.9,"v":-0.7},{"t":1988.45,"v":-0.84},{"t":1988.95,"v":-1.2},{"t":1989.5,"v":-0.56},{"t":1990.0,"v":-0.56},{"t":1990.5,"v":-0.27},{"t":1991.05,"v":-1.13},{"t":1991.55,"v":-1.56},{"t":1992.05,"v":-1.41},{"t":1992.6,"v":-1.7},{"t":1992.9,"v":-1.99},{"t":1993.45,"v":-1.56},{"t":1993.8,"v":-0.7},{"t":1994.15,"v":-1.13},{"t":1994.65,"v":-1.49},{"t":1995.0,"v":-1.49},{"t":1995.35,"v":-0.41},{"t":1995.7,"v":1.87},{"t":1996.2,"v":1.59},{"t":1996.55,"v":1.16},{"t":1997.05,"v":2.3},{"t":1997.4,"v":0.87},{"t":1997.9,"v":1.44},{"t":1998.45,"v":0.73},{"t":1998.8,"v":1.73},{"t":1999.3,"v":1.16},{"t":1999.8,"v":1.59},{"t":2000.2,"v":0.44},{"t":2000.7,"v":-0.13},{"t":2001.2,"v":-0.56},{"t":2001.9,"v":-1.13},{"t":2002.4,"v":-0.56},{"t":2002.95,"v":0.16},{"t":2003.45,"v":-0.27},{"t":2003.95,"v":0.16},{"t":2004.5,"v":-0.41},{"t":2004.8,"v":-0.56},{"t":2005.35,"v":0.87},{"t":2005.9,"v":0.59},{"t":2006.4,"v":1.44},{"t":2006.9,"v":0.59},{"t":2007.4,"v":-0.27},{"t":2007.95,"v":-1.13},{"t":2008.45,"v":-1.41},{"t":2009.0,"v":-1.27},{"t":2009.5,"v":-1.41},{"t":2010.0,"v":-1.56},{"t":2010.35,"v":-1.41},{"t":2010.7,"v":-0.56},{"t":2011.0,"v":-0.84}]
},
"vconcat":[
{"width":876,"height":141,
 "resolve":{"axis":{"x":"independent","y":"independent"}},
 "layer":[
  {"data":{"name":"aE"},"mark":{"type":"line","strokeWidth":1.8},
   "encoding":{
    "x":{"field":"t","type":"quantitative","scale":{"domain":[1960,2011],"nice":false,"zero":false},
         "axis":{"orient":"bottom","values":[1960,1970,1980,1990,2000,2010],"format":"d","title":null,"grid":false,"domain":false,"labelFontSize":24,"labelFontWeight":"bold","labelColor":"black","tickColor":"black","tickSize":-8,"labelPadding":10,"labelFlush":false}},
    "y":{"field":"v","type":"quantitative","scale":{"domain":[-3,3],"nice":false,"zero":false},
         "axis":{"orient":"left","values":[-2,0,2],"format":"d","title":null,"grid":false,"domain":false,"labelFontSize":22,"labelFontWeight":"bold","labelColor":"black","tickColor":"black","tickSize":-7,"labelPadding":4}},
    "color":{"datum":"SPEI","type":"nominal","scale":{"domain":["SPEI","SPI","standardized stage"],"range":["#000000","#ff0000","#0000ff"]},
      "legend":{"orient":"none","legendX":210,"legendY":-44,"direction":"horizontal","title":null,"symbolType":"stroke","symbolSize":1296,"symbolStrokeWidth":1.5,"labelFontSize":25,"labelFontWeight":"bold","labelColor":"black","labelLimit":0,"labelOffset":4,"columnPadding":8,"strokeColor":"black","fillColor":"white","padding":6,
        "encode":{"symbols":{"update":{"strokeDash":{"signal":"datum.value === 'standardized stage' ? [6,4] : [1,0]"}}}}}}
   }},
  {"data":{"name":"aI"},"mark":{"type":"line","strokeWidth":1.8},"encoding":{"x":{"field":"t","type":"quantitative","axis":null},"y":{"field":"v","type":"quantitative","axis":null},"color":{"datum":"SPI","type":"nominal"}}},
  {"data":{"name":"aS"},"mark":{"type":"line","strokeWidth":1.8,"strokeDash":[7,4]},"encoding":{"x":{"field":"t","type":"quantitative","axis":null},"y":{"field":"v","type":"quantitative","axis":null},"color":{"datum":"standardized stage","type":"nominal"}}},
  {"data":{"values":[{}]},"mark":{"type":"rule","color":"black","strokeWidth":1},"encoding":{"y":{"datum":0,"type":"quantitative","axis":null}}},
  {"data":{"values":[{}]},"mark":{"type":"text","align":"left","baseline":"top","dx":2,"dy":2,"fontSize":20,"fontWeight":"bold","color":"black"},
   "encoding":{"x":{"datum":1960,"type":"quantitative","axis":{"orient":"top","values":[1960,1970,1980,1990,2000,2010],"labels":false,"title":null,"grid":false,"domain":false,"tickColor":"black","tickSize":-8}},
    "y":{"datum":3,"type":"quantitative","axis":{"orient":"right","values":[-2,0,2],"labels":false,"title":null,"grid":false,"domain":false,"tickColor":"black","tickSize":-7}},
    "text":{"value":"(a)"}}}
 ]},
{"width":876,"height":141,
 "resolve":{"axis":{"x":"independent","y":"independent"}},
 "layer":[
  {"data":{"name":"bE"},"mark":{"type":"line","strokeWidth":1.8},
   "encoding":{
    "x":{"field":"t","type":"quantitative","scale":{"domain":[1960,2011],"nice":false,"zero":false},
         "axis":{"orient":"bottom","values":[1960,1970,1980,1990,2000,2010],"format":"d","title":null,"grid":false,"domain":false,"labelFontSize":24,"labelFontWeight":"bold","labelColor":"black","tickColor":"black","tickSize":-8,"labelPadding":10,"labelFlush":false}},
    "y":{"field":"v","type":"quantitative","scale":{"domain":[-3,3],"nice":false,"zero":false},
         "axis":{"orient":"left","values":[-2,0,2],"format":"d","title":null,"grid":false,"domain":false,"labelFontSize":22,"labelFontWeight":"bold","labelColor":"black","tickColor":"black","tickSize":-7,"labelPadding":4}},
    "color":{"datum":"SPEI","type":"nominal","scale":{"domain":["SPEI","SPI","standardized stage"],"range":["#000000","#ff0000","#0000ff"]},"legend":null}
   }},
  {"data":{"name":"bI"},"mark":{"type":"line","strokeWidth":1.8},"encoding":{"x":{"field":"t","type":"quantitative","axis":null},"y":{"field":"v","type":"quantitative","axis":null},"color":{"datum":"SPI","type":"nominal"}}},
  {"data":{"name":"bS"},"mark":{"type":"line","strokeWidth":1.8,"strokeDash":[7,4]},"encoding":{"x":{"field":"t","type":"quantitative","axis":null},"y":{"field":"v","type":"quantitative","axis":null},"color":{"datum":"standardized stage","type":"nominal"}}},
  {"data":{"values":[{}]},"mark":{"type":"rule","color":"black","strokeWidth":1},"encoding":{"y":{"datum":0,"type":"quantitative","axis":null}}},
  {"data":{"values":[{}]},"mark":{"type":"text","align":"left","baseline":"top","dx":2,"dy":2,"fontSize":20,"fontWeight":"bold","color":"black"},
   "encoding":{"x":{"datum":1960,"type":"quantitative","axis":{"orient":"top","values":[1960,1970,1980,1990,2000,2010],"labels":false,"title":null,"grid":false,"domain":false,"tickColor":"black","tickSize":-8}},
    "y":{"datum":3,"type":"quantitative","axis":{"orient":"right","values":[-2,0,2],"labels":false,"title":null,"grid":false,"domain":false,"tickColor":"black","tickSize":-7}},
    "text":{"value":"(b)"}}}
 ]},
{"width":876,"height":141,
 "resolve":{"axis":{"x":"independent","y":"independent"}},
 "layer":[
  {"data":{"name":"cE"},"mark":{"type":"line","strokeWidth":1.8},
   "encoding":{
    "x":{"field":"t","type":"quantitative","scale":{"domain":[1960,2011],"nice":false,"zero":false},
         "axis":{"orient":"bottom","values":[1960,1970,1980,1990,2000,2010],"format":"d","title":null,"grid":false,"domain":false,"labelFontSize":24,"labelFontWeight":"bold","labelColor":"black","tickColor":"black","tickSize":-8,"labelPadding":10,"labelFlush":false}},
    "y":{"field":"v","type":"quantitative","scale":{"domain":[-3,3],"nice":false,"zero":false},
         "axis":{"orient":"left","values":[-2,0,2],"format":"d","title":null,"grid":false,"domain":false,"labelFontSize":22,"labelFontWeight":"bold","labelColor":"black","tickColor":"black","tickSize":-7,"labelPadding":4}},
    "color":{"datum":"SPEI","type":"nominal","scale":{"domain":["SPEI","SPI","standardized stage"],"range":["#000000","#ff0000","#0000ff"]},"legend":null}
   }},
  {"data":{"name":"cI"},"mark":{"type":"line","strokeWidth":1.8},"encoding":{"x":{"field":"t","type":"quantitative","axis":null},"y":{"field":"v","type":"quantitative","axis":null},"color":{"datum":"SPI","type":"nominal"}}},
  {"data":{"name":"cS"},"mark":{"type":"line","strokeWidth":1.8,"strokeDash":[7,4]},"encoding":{"x":{"field":"t","type":"quantitative","axis":null},"y":{"field":"v","type":"quantitative","axis":null},"color":{"datum":"standardized stage","type":"nominal"}}},
  {"data":{"values":[{}]},"mark":{"type":"rule","color":"black","strokeWidth":1},"encoding":{"y":{"datum":0,"type":"quantitative","axis":null}}},
  {"data":{"values":[{}]},"mark":{"type":"text","align":"left","baseline":"top","dx":2,"dy":2,"fontSize":20,"fontWeight":"bold","color":"black"},
   "encoding":{"x":{"datum":1960,"type":"quantitative","axis":{"orient":"top","values":[1960,1970,1980,1990,2000,2010],"labels":false,"title":null,"grid":false,"domain":false,"tickColor":"black","tickSize":-8}},
    "y":{"datum":3,"type":"quantitative","axis":{"orient":"right","values":[-2,0,2],"labels":false,"title":null,"grid":false,"domain":false,"tickColor":"black","tickSize":-7}},
    "text":{"value":"(c)"}}}
 ]}
]
}
